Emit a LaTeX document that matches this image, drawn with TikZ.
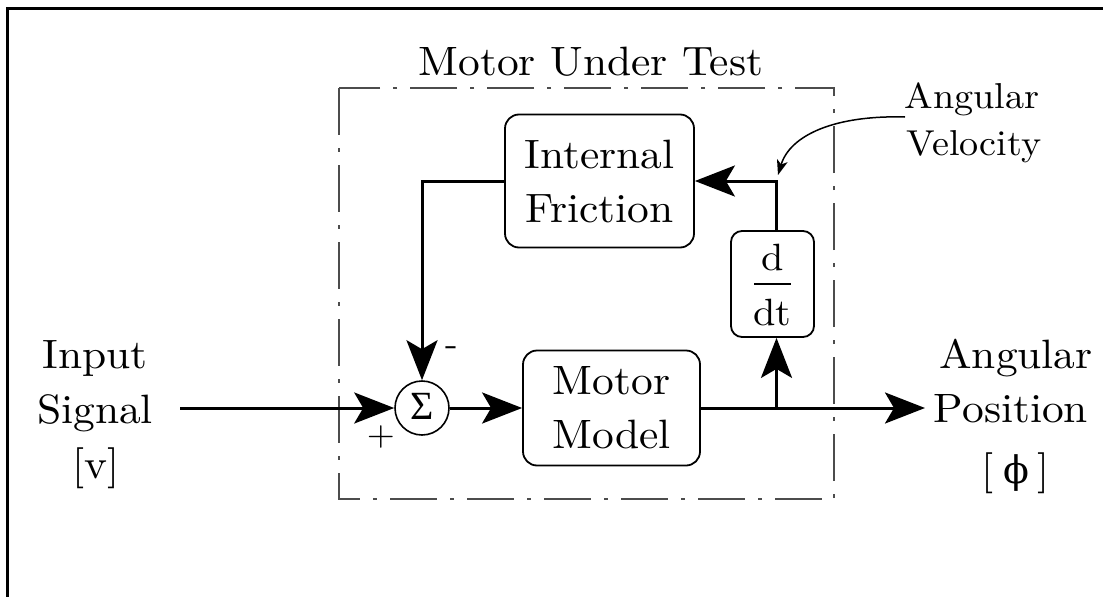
\documentclass[tikz,border=0pt]{standalone}
\usepackage{fontspec}
\setmainfont{lmroman10-regular.otf}[FakeStretch=1.06]
\newfontfamily\grkfont{Liberation Serif}
\newfontfamily\phifont{DejaVu Serif}
\usetikzlibrary{arrows.meta}
\begin{document}
\begin{tikzpicture}[x=1pt,y=-1pt,
  txt/.style={font=\fontsize{41}{54}\selectfont, inner sep=0pt, anchor=base},
  smalltxt/.style={font=\fontsize{36}{47}\selectfont, inner sep=0pt, anchor=base},
  blk/.style={draw, line width=1.8pt, rounded corners=14pt, align=center,
              font=\fontsize{41}{54}\selectfont, inner sep=0pt},
  wire/.style={line width=3pt},
  conn/.style={line width=3pt, -{Stealth[length=40pt,width=31pt,inset=9pt]}},
  annot/.style={line width=1.5pt, -{Stealth[length=15pt,width=11pt,inset=4pt]}},
  mut/.style={draw=black!70, line width=2pt, dash pattern=on 47pt off 13pt on 4pt off 13pt},
]
\useasboundingbox (0,0) rectangle (1103,597);
% frame (top and left edges only)
\draw[line width=3.5pt] (7.7,597) -- (7.7,8.3) -- (1103,8.3);

% Motor under test box
\draw[mut] (339,88) rectangle (834,499);
\node[txt] (title) at (591,75) {Motor Under Test};

% blocks
\node[blk, minimum width=189pt, minimum height=133pt] (IF) at (599.5,181) {Internal\\Friction};
\node[blk, minimum width=177pt, minimum height=115pt] (MM) at (611.5,408) {Motor\\Model};
\node[draw, line width=1.8pt, rounded corners=11pt, minimum width=83pt, minimum height=106pt, inner sep=0pt] (DD) at (772.5,284) {};
\node[txt, font=\fontsize{38}{40}\selectfont] (dnum) at (772.5,270) {d};
\node[txt, font=\fontsize{38}{40}\selectfont] (dden) at (772.5,325) {dt};
\draw[line width=1.5pt] ([xshift=-18.5pt]DD.center) coordinate (fl) -- ([xshift=18.5pt]DD.center) coordinate (fr);

% summing junction
\node[draw, circle, line width=1.6pt, minimum size=54pt, inner sep=0pt] (S) at (422,408) {};
\node[inner sep=0pt, font=\grkfont\fontsize{40}{44}\selectfont] (sig) at (422,406) {Σ};
\node[inner sep=0pt, font=\fontsize{36}{40}\selectfont] (minus) at (452,351) {-};
\node[inner sep=0pt, font=\fontsize{34}{40}\selectfont] (plus) at (381,437) {+};

% input label
\node[txt] (in1) at (95,368) {Input};
\node[txt] (in2) at (95,423) {Signal};
\node[txt] (in3) at (96,478) {[v]};

% output label
\node[txt] (out1) at (1016,368) {Angular};
\node[txt] (out2) at (1011,422) {Position};
\node[txt] (out3) at (1016,483) {[\hspace{9pt}{\phifont\fontsize{38}{40}\selectfont ϕ}\hspace{9pt}]};

% angular velocity annotation
\node[smalltxt] (av1) at (972,108) {Angular};
\node[smalltxt] (av2) at (974,155) {Velocity};

% connectors
\coordinate (inp) at (180,408);
\coordinate (outp) at (925,408);
\coordinate (br) at (776.5,408);
\draw[conn] (inp) -- (S.west);
\draw[conn] (S.east) -- (S.east -| MM.west);
\draw[wire] (MM.east) -- (br);
\draw[conn] (br) -- (outp);
\draw[conn] (br) -- (br |- DD.south);
\draw[conn] (DD.north -| br) |- (IF.east);
\draw[conn] (IF.west) -| (S.north);

% annotation arrow
\coordinate (avs) at (905,117);
\coordinate (avt) at (778,175);
\draw[annot] (avs) .. controls (835,115) and (790,135) .. (avt);
\end{tikzpicture}
\end{document}
